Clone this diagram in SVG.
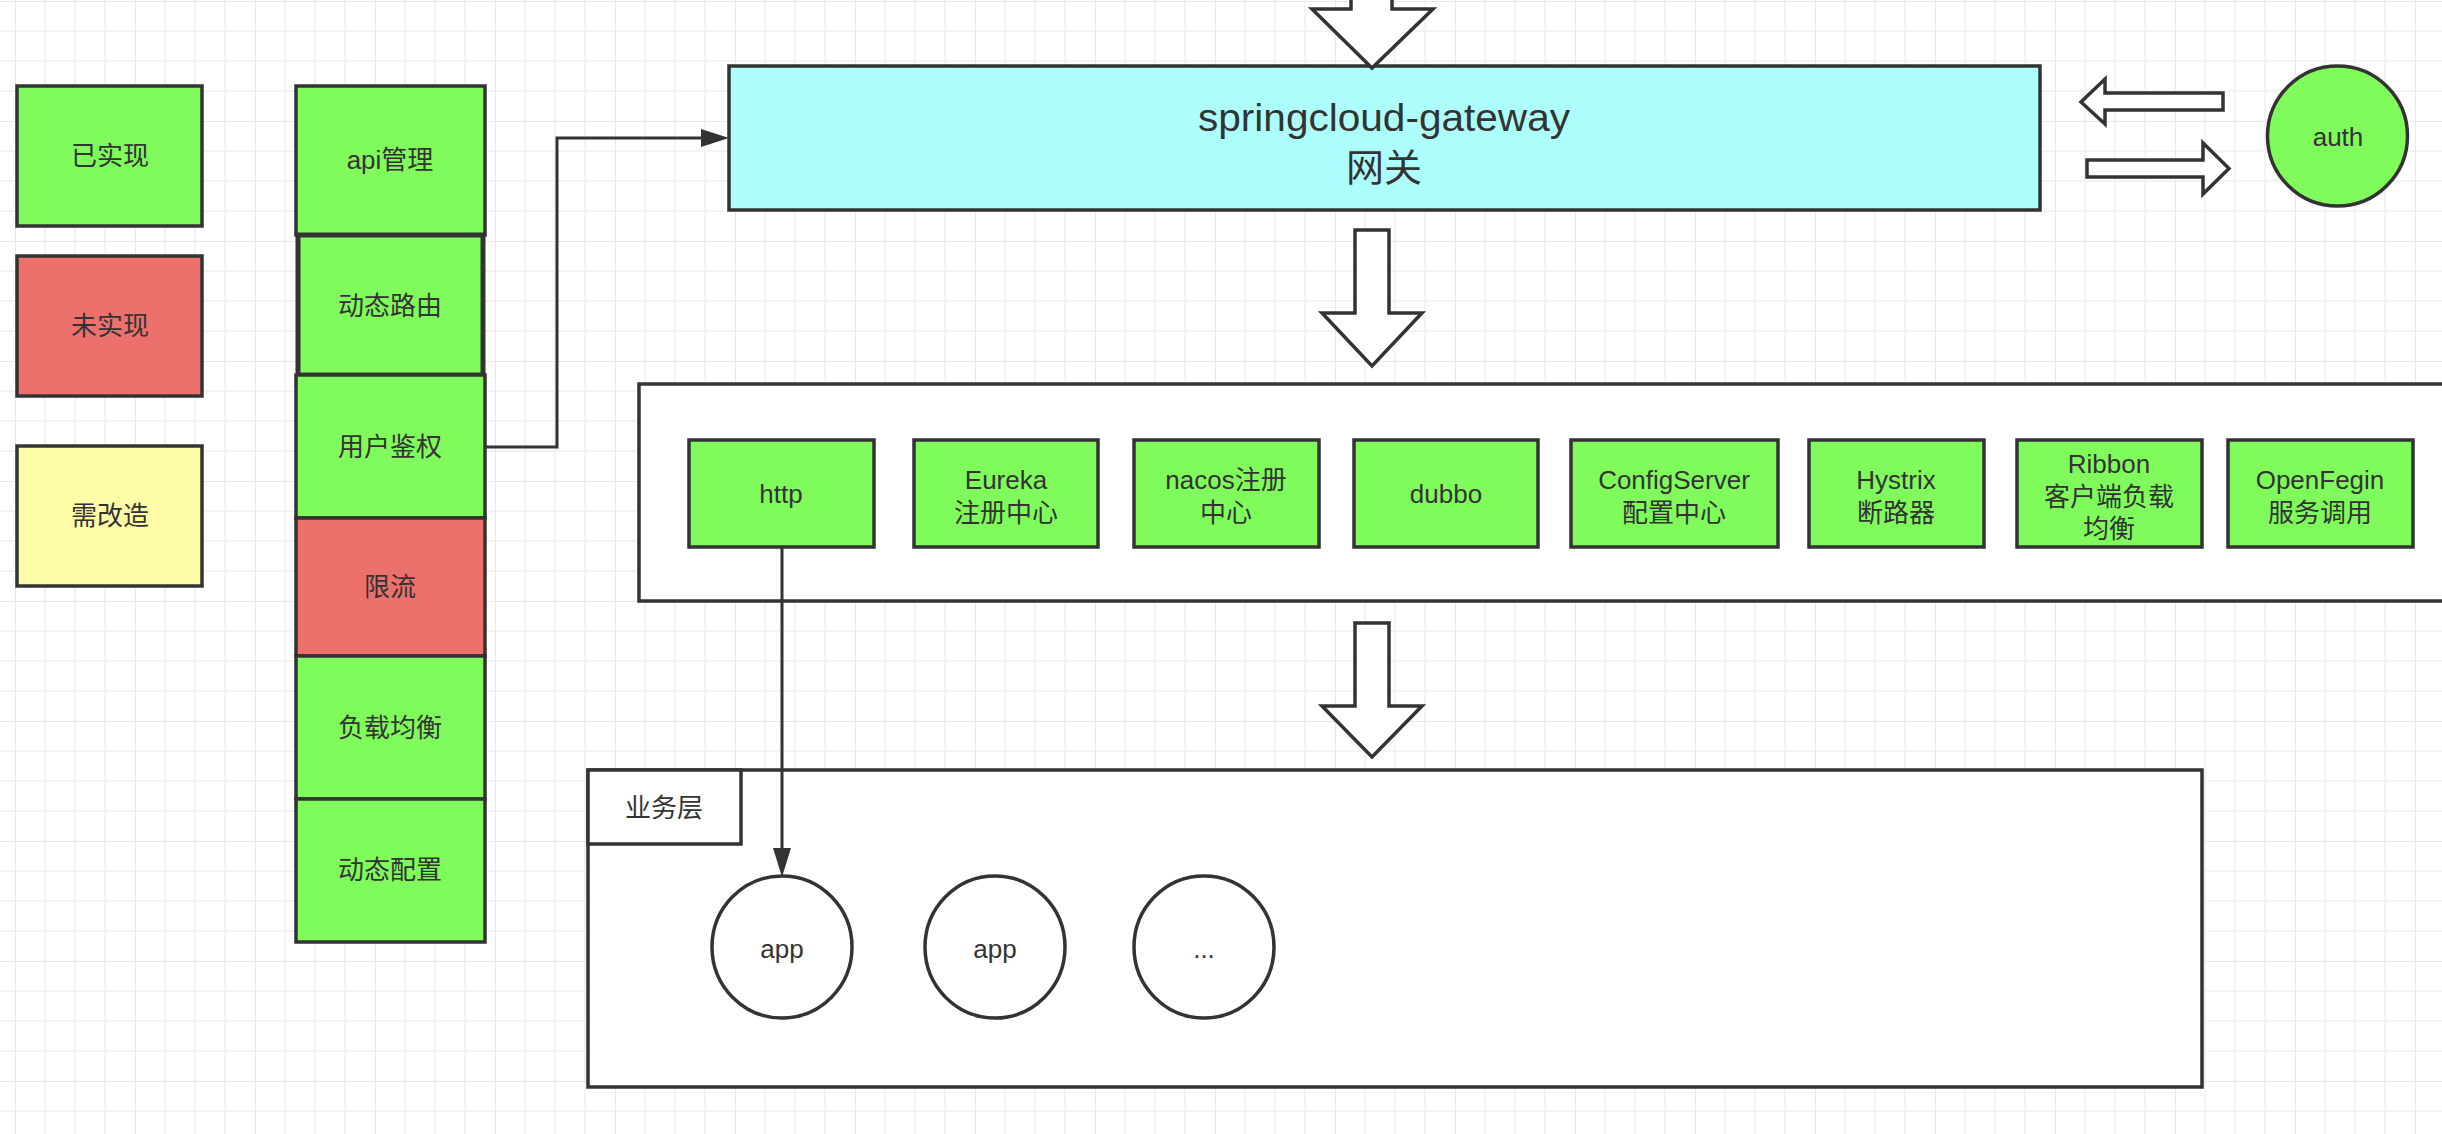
<svg xmlns="http://www.w3.org/2000/svg" width="2442" height="1134" viewBox="0 0 2442 1134">
<defs>
<pattern id="grid" x="15" y="1" width="120" height="120" patternUnits="userSpaceOnUse">
<path d="M30,0V120M60,0V120M90,0V120M0,30H120M0,60H120M0,90H120" stroke="#f3f3f3" stroke-width="2" fill="none"/>
<path d="M0,0V120M0,0H120" stroke="#e8e8e8" stroke-width="2" fill="none"/>
</pattern>
<style>
.box{stroke:#333;stroke-width:3.5}
.g{fill:#80FB5C}
.r{fill:#EC716D}
.y{fill:#FFFCA8}
.c{fill:#ADFFFD}
.w{fill:#fff}
.blk{fill:#fff;stroke:#333;stroke-width:3.5;stroke-linejoin:miter}
.line{fill:none;stroke:#333;stroke-width:3}
.head{fill:#333}
text{font-family:"Liberation Sans","Noto Sans CJK SC",sans-serif;fill:#333;font-size:26px;text-anchor:middle}
.big{font-size:38px}
</style>
</defs>
<rect width="2442" height="1134" fill="#fff"/>
<rect width="2442" height="1134" fill="url(#grid)"/>

<g id="legend-done"><rect class="box g" x="17" y="86" width="185" height="140"/><text x="110" y="165">已实现</text></g>
<g id="legend-todo"><rect class="box r" x="17" y="256" width="185" height="140"/><text x="110" y="335">未实现</text></g>
<g id="legend-modify"><rect class="box y" x="17" y="446" width="185" height="140"/><text x="110" y="525">需改造</text></g>

<g id="col-api"><rect class="box g" x="296" y="86" width="189" height="149"/><text x="390" y="169">api管理</text></g>
<g id="col-route"><rect class="box g" x="298" y="235" width="185" height="140" style="stroke-width:5"/><text x="390" y="315">动态路由</text></g>
<g id="col-auth"><rect class="box g" x="296" y="375" width="189" height="143"/><text x="390" y="456">用户鉴权</text></g>
<g id="col-limit"><rect class="box r" x="296" y="518" width="189" height="138"/><text x="390" y="596">限流</text></g>
<g id="col-lb"><rect class="box g" x="296" y="656" width="189" height="143"/><text x="390" y="737">负载均衡</text></g>
<g id="col-config"><rect class="box g" x="296" y="799" width="189" height="143"/><text x="390" y="879">动态配置</text></g>

<g id="gateway"><rect class="box c" x="729" y="66" width="1311" height="144"/><text class="big" x="1384" y="131" textLength="372" lengthAdjust="spacingAndGlyphs">springcloud-gateway</text><text class="big" x="1384" y="181">网关</text></g>
<g id="auth"><ellipse class="box g" cx="2337.5" cy="136" rx="70" ry="70"/><text x="2338" y="146">auth</text></g>

<g id="services">
<rect class="box w" x="639" y="384" width="1840" height="217"/>
</g>
<g id="svc-http"><rect class="box g" x="689" y="440" width="185" height="107"/><text x="781" y="503">http</text></g>
<g id="svc-eureka"><rect class="box g" x="914" y="440" width="184" height="107"/><text x="1006" y="489">Eureka</text><text x="1006" y="522">注册中心</text></g>
<g id="svc-nacos"><rect class="box g" x="1134" y="440" width="185" height="107"/><text x="1226" y="489">nacos注册</text><text x="1226" y="522">中心</text></g>
<g id="svc-dubbo"><rect class="box g" x="1354" y="440" width="184" height="107"/><text x="1446" y="503">dubbo</text></g>
<g id="svc-config"><rect class="box g" x="1571" y="440" width="207" height="107"/><text x="1674" y="489">ConfigServer</text><text x="1674" y="522">配置中心</text></g>
<g id="svc-hystrix"><rect class="box g" x="1809" y="440" width="175" height="107"/><text x="1896" y="489">Hystrix</text><text x="1896" y="522">断路器</text></g>
<g id="svc-ribbon"><rect class="box g" x="2017" y="440" width="185" height="107"/><text x="2109" y="473">Ribbon</text><text x="2109" y="506">客户端负载</text><text x="2109" y="538">均衡</text></g>
<g id="svc-openfegin"><rect class="box g" x="2228" y="440" width="185" height="107"/><text x="2320" y="489">OpenFegin</text><text x="2320" y="522">服务调用</text></g>

<g id="biz">
<rect class="box w" x="588" y="770" width="1614" height="317"/>
<rect class="box w" x="588" y="770" width="153" height="74"/>
<text x="664" y="817">业务层</text>
</g>
<g id="app1"><ellipse class="box w" cx="782" cy="947" rx="70" ry="71"/><text x="782" y="958">app</text></g>
<g id="app2"><ellipse class="box w" cx="995" cy="947" rx="70" ry="71"/><text x="995" y="958">app</text></g>
<g id="app3"><ellipse class="box w" cx="1204" cy="947" rx="70" ry="71"/><text x="1204" y="958">...</text></g>

<g id="connectors">
<polygon class="blk" points="1351,-10 1392,-10 1392,9 1433,9 1372,68 1312,9 1351,9"/>
<polygon class="blk" points="1355,230 1389,230 1389,313 1422,313 1372,366 1322,313 1355,313"/>
<polygon class="blk" points="1355,623 1389,623 1389,706 1422,706 1372,757 1322,706 1355,706"/>
<polygon class="blk" points="2223,93 2105,93 2105,79 2081,102 2105,124 2105,110 2223,110"/>
<polygon class="blk" points="2087,160 2203,160 2203,143 2229,168.5 2203,194 2203,177 2087,177"/>
<path class="line" d="M485,447H557V138H703"/>
<polygon class="head" points="729,138 701,129 701,147"/>
<path class="line" d="M782,547V850"/>
<polygon class="head" points="782,877 773,848 791,848"/>
</g>
</svg>
